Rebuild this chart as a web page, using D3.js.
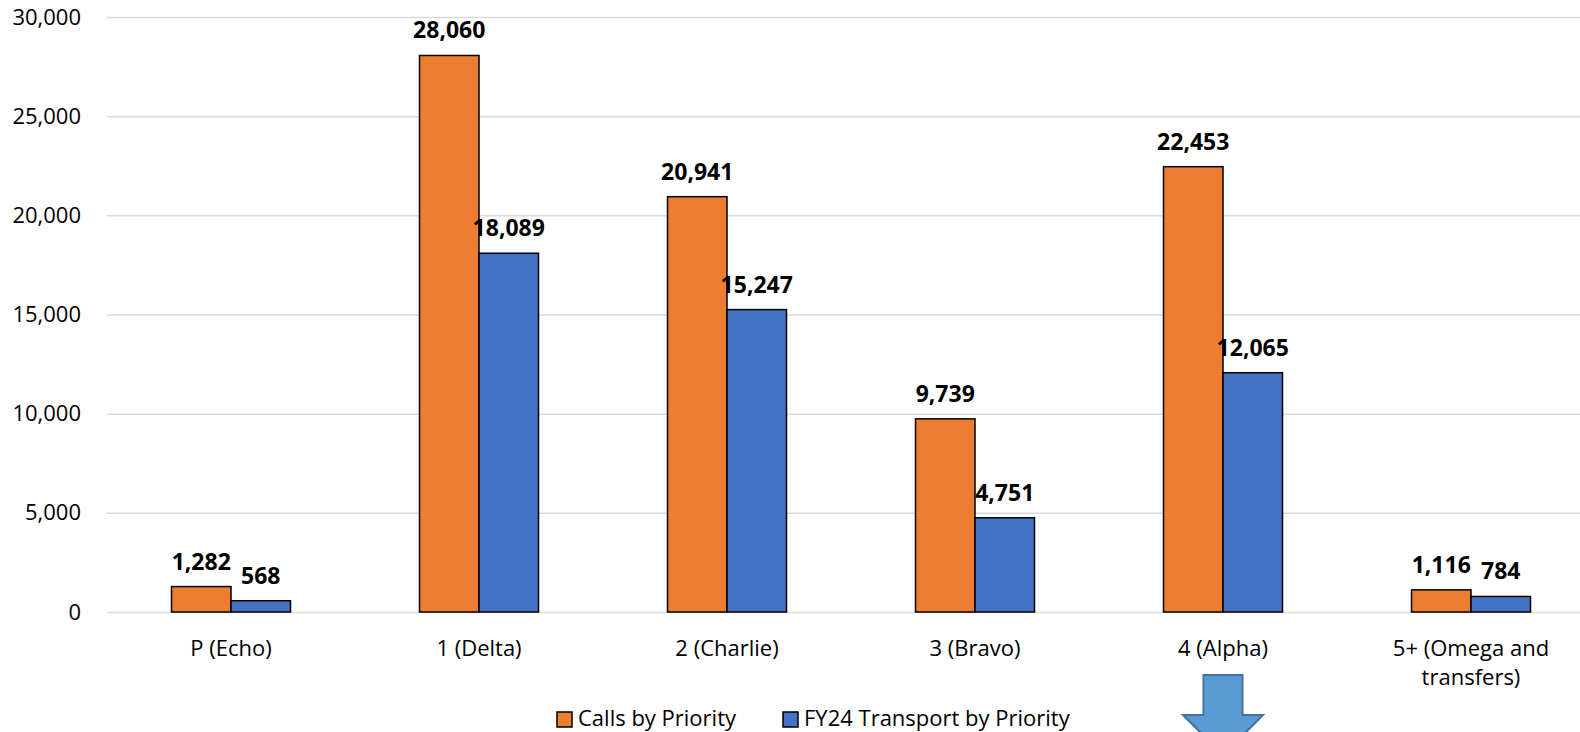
<!DOCTYPE html>
<html>
<head>
<meta charset="utf-8">
<script src="https://cdn.jsdelivr.net/npm/d3@7"></script>
<style>
  html, body { margin: 0; padding: 0; background: #fff; }
  svg text { font-family: "Open Sans", "Noto Sans", sans-serif; fill: #000; }
</style>
</head>
<body>
<svg id="chart" width="1580" height="732"></svg>
<script>
// data
var categories = ['P (Echo)', '1 (Delta)', '2 (Charlie)', '3 (Bravo)', '4 (Alpha)', '5+ (Omega and transfers)'];
var seriesNames = ['Calls by Priority', 'FY24 Transport by Priority'];
var callsByPriority = [1282, 28060, 20941, 9739, 22453, 1116];
var transportByPriority = [568, 18089, 15247, 4751, 12065, 784];
var yTicks = [0, 5000, 10000, 15000, 20000, 25000, 30000];
var colors = ['#ED7D31', '#4472C4'];

(function () {
    var svg = d3.select('#chart');
    var plotLeft = 107, plotRight = 1595, plotTop = 17, plotBottom = 612;
    var fmt = d3.format(',');

    var x0 = d3.scaleBand().domain(d3.range(categories.length)).range([plotLeft, plotRight]).padding(0);
    var barsWidth = 119;
    var x1 = d3.scaleBand().domain([0, 1])
        .range([(x0.bandwidth() - barsWidth) / 2, (x0.bandwidth() + barsWidth) / 2]);
    var y = d3.scaleLinear().domain([0, 30000]).range([plotBottom, plotTop]);

    // gridlines + y labels
    var yAxis = svg.append('g')
        .attr('transform', 'translate(' + plotLeft + ',0)')
        .call(d3.axisLeft(y).tickValues(yTicks).tickFormat(fmt).tickSize(-(plotRight - plotLeft)).tickPadding(26));
    yAxis.select('.domain').remove();
    yAxis.selectAll('line').attr('stroke', '#d9d9d9').attr('stroke-width', 1.5);
    yAxis.selectAll('text')
        .attr('font-size', 22)
        .attr('font-family', '"Open Sans", sans-serif')
        .attr('fill', '#000');

    var groups = svg.append('g').selectAll('g')
        .data(categories)
        .enter().append('g')
        .attr('transform', function (d, i) { return 'translate(' + x0(i) + ',0)'; });

    groups.each(function (cat, i) {
        var g = d3.select(this);
        var vals = [callsByPriority[i], transportByPriority[i]];
        vals.forEach(function (v, s) {
            g.append('rect')
                .attr('x', x1(s))
                .attr('y', y(v))
                .attr('width', x1.bandwidth())
                .attr('height', y(0) - y(v))
                .attr('fill', colors[s])
                .attr('stroke', '#000')
                .attr('stroke-width', 1.5);
            g.append('text')
                .attr('x', x1(s) + x1.bandwidth() / 2)
                .attr('y', y(v) - 17)
                .attr('text-anchor', 'middle')
                .attr('font-size', 23)
                .attr('font-weight', 'bold')
                .text(fmt(v));
        });
    });

    // category labels (wrap the long one)
    var catLines = [['P (Echo)'], ['1 (Delta)'], ['2 (Charlie)'], ['3 (Bravo)'], ['4 (Alpha)'], ['5+ (Omega and', 'transfers)']];
    groups.each(function (cat, i) {
        var t = d3.select(this).append('text')
            .attr('text-anchor', 'middle')
            .attr('font-size', 22)
            .attr('y', 656);
        catLines[i].forEach(function (line, k) {
            t.append('tspan')
                .attr('x', x0.bandwidth() / 2)
                .attr('dy', k === 0 ? 0 : 29)
                .text(line);
        });
    });

    // legend
    var legend = svg.append('g').attr('transform', 'translate(557,712)');
    var legendX = [0, 226];
    seriesNames.forEach(function (name, s) {
        var item = legend.append('g').attr('transform', 'translate(' + legendX[s] + ',0)');
        item.append('rect')
            .attr('width', 15).attr('height', 15)
            .attr('fill', colors[s]).attr('stroke', '#000').attr('stroke-width', 1.5);
        item.append('text')
            .attr('x', 21).attr('y', 14)
            .attr('font-size', 22)
            .text(name);
    });

    // down arrow annotation under 4 (Alpha)
    var ax = x0(4) + x0.bandwidth() / 2;
    svg.append('path')
        .attr('d', 'M' + (ax - 19.5) + ',675 L' + (ax + 19.5) + ',675 L' + (ax + 19.5) + ',715 L' + (ax + 40) + ',715 L' + ax + ',755 L' + (ax - 40) + ',715 L' + (ax - 19.5) + ',715 Z')
        .attr('fill', '#5B9BD5')
        .attr('stroke', '#41719C')
        .attr('stroke-width', 2);
})();
</script>
</body>
</html>
